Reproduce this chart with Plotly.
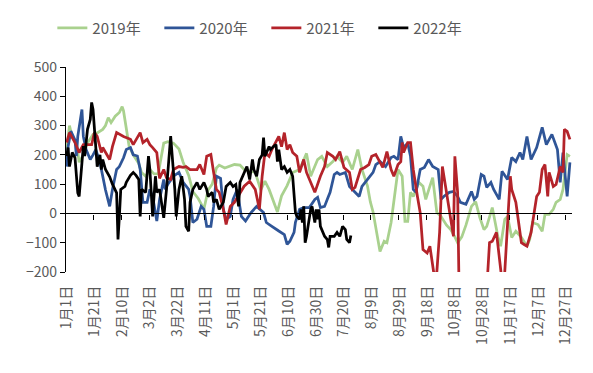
import plotly.graph_objects as go

# ---- tick labels (category every 20 days) ----
tick_days = [0, 20, 40, 60, 80, 100, 120, 140, 160, 180, 200, 220, 240, 260, 280, 300, 320, 340, 360]
tick_labels = ["1月1日", "1月21日", "2月10日", "3月2日", "3月22日", "4月11日", "5月1日", "5月21日",
               "6月10日", "6月30日", "7月20日", "8月9日", "8月29日", "9月18日", "10月8日",
               "10月28日", "11月17日", "12月7日", "12月27日"]

# ---- 2019 ----
d2019 = [0,2,4,7,9,12,15,19,22,26,28,30,32,35,38,40,41,43,45,48,52,54,57,60,63,66,70,73,77,81,84,88,91,95,99,102,105,108,110,114,118,121,125,128,132,136,140,143,146,149,152,155,159,163,168,173,176,181,184,188,192,195,199,202,206,210,213,217,219,221,224,226,229,231,234,236,239,242,244,246,248,250,254,257,259,262,264,267,270,274,277,280,282,285,288,292,295,298,301,303,307,311,313,316,318,321,324,328,332,334,336,340,343,345,348,351,353,356,358,361,363]
v2019 = [218,300,260,240,175,200,240,270,275,287,300,327,310,332,345,365,350,290,230,200,170,140,127,150,135,135,240,245,240,220,175,130,75,50,15,80,100,155,165,155,161,167,165,150,145,140,80,110,82,40,5,60,95,140,150,205,127,184,195,160,177,195,174,195,150,218,150,93,40,5,-70,-130,-95,-100,-31,48,150,127,-27,-27,72,58,106,93,48,93,122,3,-10,-40,-55,-80,-100,-80,-40,24,40,-14,-55,-44,20,-78,-112,-20,-10,-82,-61,-82,-112,-89,-31,-38,-61,-3,-3,14,38,48,82,201,195]

# ---- 2020 ----
d2020 = [0,1,3,6,7,8,11,12,14,17,19,21,24,26,28,31,33,36,38,41,43,46,48,51,53,55,58,60,62,65,67,70,71,73,77,81,84,88,89,91,94,97,99,101,104,106,108,111,113,115,118,120,123,126,129,133,137,142,144,148,151,153,157,159,161,164,165,168,171,175,179,181,183,186,188,190,193,195,197,201,204,206,208,211,213,217,221,223,226,230,234,236,239,241,243,246,248,250,252,255,258,261,264,268,270,272,276,279,282,284,288,292,294,296,299,301,303,306,308,312,314,318,321,324,327,329,332,335,339,343,346,350,352,354,356,358,361,363]
v2020 = [160,228,281,250,196,263,355,263,218,184,200,218,174,127,80,24,82,150,160,190,218,225,200,196,150,38,38,82,58,-26,48,116,82,100,127,140,106,82,58,-31,-20,24,14,-44,-44,24,127,120,14,-20,-10,48,82,-10,-26,3,24,3,-31,-44,-55,-60,-72,-106,-95,-65,-30,14,20,20,48,55,20,24,48,72,133,140,133,140,92,82,72,58,92,116,140,167,177,160,191,195,184,263,225,240,195,82,72,150,157,184,160,150,48,58,72,75,58,38,31,75,48,58,133,127,89,106,82,48,144,116,191,177,208,184,263,184,225,294,235,270,242,218,106,208,58,174]

# ---- 2021 ----
d2021 = [0,2,6,9,12,18,20,22,25,26,31,33,36,41,46,48,53,55,58,60,62,65,67,70,72,75,77,81,84,86,89,94,96,99,101,104,106,108,110,113,115,118,121,125,128,132,136,139,141,143,146,148,151,153,155,157,159,161,163,166,168,171,173,177,179,183,186,188,192,194,197,200,204,206,208,212,215,218,220,223,225,228,231,234,236,239,241,242,243,246,248,250,253,255,257,260,262,265,267,269,271,274,276,279,280,282,283,290,297,303,305,307,310,312,314,316,318,320,321,324,326,328,330,332,335,337,339,341,343,345,347,348,351,353,356,358,359,361,363]
v2021 = [242,276,242,208,235,235,276,263,208,225,184,228,276,263,253,235,276,242,253,235,225,208,120,150,122,116,150,160,157,160,150,150,167,133,195,201,140,82,72,14,-38,24,38,72,93,110,82,14,127,208,195,218,242,263,228,276,218,235,208,195,140,184,140,92,72,127,160,208,195,184,211,157,140,82,89,150,157,167,195,201,184,157,211,150,127,167,177,242,208,242,242,150,58,3,-123,-135,-112,-210,-200,-65,160,72,3,-78,195,72,-250,-300,-300,-260,-100,-95,-65,-146,-230,-200,-44,127,82,38,-31,-100,-106,-112,-65,-10,58,72,150,167,58,140,92,99,160,140,287,280,253]

# ---- 2022 ----
d2022 = [0,1,2,4,6,7,8,9,11,12,13,14,15,17,18,19,20,21,22,24,25,26,28,31,33,36,37,38,39,42,43,46,48,50,52,53,54,57,59,60,62,64,65,67,70,72,75,78,79,81,83,85,86,88,89,91,94,96,99,101,102,105,106,108,110,113,115,118,120,122,124,125,128,130,132,134,135,137,139,141,142,143,146,147,149,151,152,153,155,157,159,161,163,164,165,166,168,169,170,171,172,173,175,176,177,179,180,181,182,183,186,188,189,190,193,195,197,199,201,202,204,205]
v2022 = [196,225,160,208,190,127,70,58,174,230,196,250,287,321,379,355,276,228,160,200,150,184,150,125,100,70,-89,-10,82,92,106,130,140,130,116,-10,82,72,196,150,-10,127,72,82,-15,82,264,82,-10,82,127,48,-44,-61,38,82,106,82,106,82,58,72,38,48,14,38,92,106,92,99,24,106,140,160,116,184,150,127,184,200,259,195,228,218,228,235,177,218,150,160,140,150,127,48,3,-10,-20,14,-31,24,-100,-78,-10,14,24,-31,14,-20,14,-44,-78,-89,-116,-78,-78,-65,-78,-44,-55,-89,-100,-75]

series = [
    ("2019年", d2019, v2019, "#A9D18E"),
    ("2020年", d2020, v2020, "#2F5597"),
    ("2021年", d2021, v2021, "#B4232A"),
    ("2022年", d2022, v2022, "#000000"),
]

y_min, y_max = -200, 500
x_range = [-0.5, 364.5]

fig = go.Figure()
for name, d, v, c in series:
    fig.add_trace(go.Scatter(x=d, y=v, mode="lines", name=name,
                             line=dict(color=c, width=2.75), hoverinfo="skip"))

# dummy trace for the axis drawn at y = 0
fig.add_trace(go.Scatter(x=[None], y=[None], xaxis="x2", yaxis="y",
                         showlegend=False, hoverinfo="skip"))

font_family = "Noto Sans CJK SC, Noto Sans, sans-serif"
txt_color = "#595959"

zero_pos = (0 - y_min) / (y_max - y_min)
boundary_ticks = [t + 19.5 for t in tick_days[:-1]]

fig.update_layout(
    width=593, height=373,
    margin=dict(l=66, r=21, t=67, b=101),
    paper_bgcolor="white", plot_bgcolor="white",
    font=dict(family=font_family, color=txt_color, size=14),
    showlegend=True,
    hovermode=False,
    legend=dict(orientation="h", x=-0.027, xanchor="left", y=1.19, yanchor="middle",
                font=dict(size=15, color=txt_color), entrywidth=62, entrywidthmode="pixels",
                bgcolor="rgba(0,0,0,0)"),
    xaxis=dict(range=x_range, tickvals=tick_days, ticktext=tick_labels, tickangle=-90,
               showline=False, showgrid=False, zeroline=False, ticks="",
               tickfont=dict(size=14, color=txt_color), ticklabelstandoff=10),
    xaxis2=dict(range=x_range, overlaying="x", anchor="free", position=zero_pos,
                showline=True, linecolor="black", linewidth=1.3, showgrid=False,
                zeroline=False, ticks="outside", ticklen=5, tickcolor="black",
                tickvals=boundary_ticks, showticklabels=False),
    yaxis=dict(range=[y_min, y_max], dtick=100, showgrid=False, zeroline=False,
               showline=True, linecolor="black", linewidth=1.3, ticks="outside",
               ticklen=5, tickcolor="black", tickfont=dict(size=14, color=txt_color)),
)

fig.write_html("out.html", config={"displayModeBar": False},
               post_script="document.body.style.margin='0';")
